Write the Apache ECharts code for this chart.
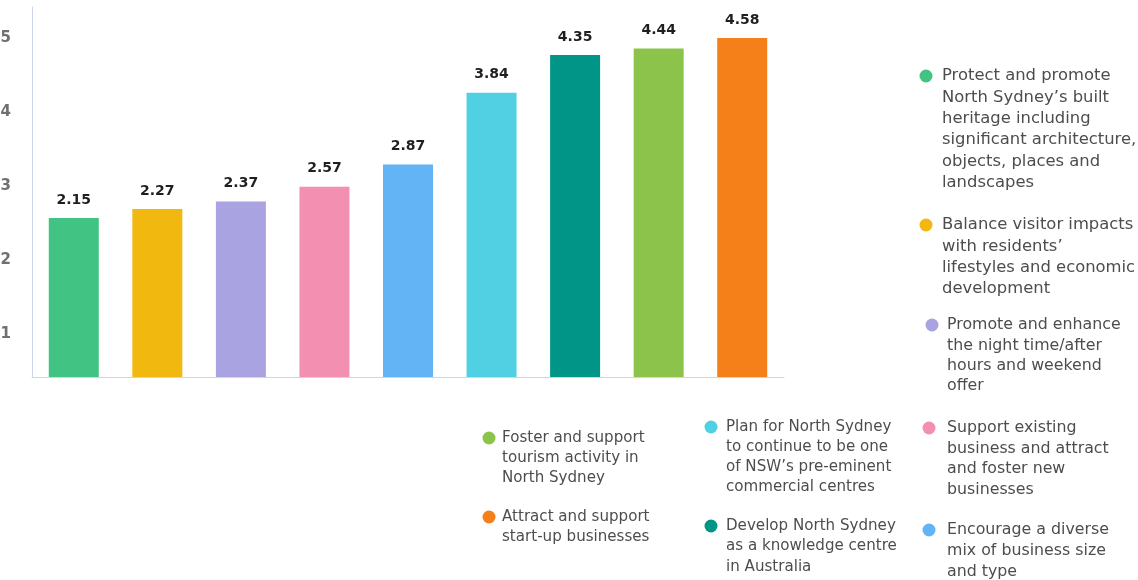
<!DOCTYPE html>
<html>
<head>
<meta charset="utf-8">
<script src="https://cdn.jsdelivr.net/npm/echarts@6/dist/echarts.min.js"></script>
<style>
  html, body { margin: 0; padding: 0; background: #ffffff; }
  #chart { width: 1138px; height: 580px; }
</style>
</head>
<body>
<div id="chart"></div>
<script>
// Objectives, in the order their bars are drawn (left to right)
const objectives = [
  'Protect and promote\nNorth Sydney\u2019s built\nheritage including\nsignificant architecture,\nobjects, places and\nlandscapes',
  'Balance visitor impacts\nwith residents\u2019\nlifestyles and economic\ndevelopment',
  'Promote and enhance\nthe night time/after\nhours and weekend\noffer',
  'Support existing\nbusiness and attract\nand foster new\nbusinesses',
  'Encourage a diverse\nmix of business size\nand type',
  'Plan for North Sydney\nto continue to be one\nof NSW\u2019s pre-eminent\ncommercial centres',
  'Develop North Sydney\nas a knowledge centre\nin Australia',
  'Foster and support\ntourism activity in\nNorth Sydney',
  'Attract and support\nstart-up businesses'
];

// Average rating per objective
const ratings = [2.15, 2.27, 2.37, 2.57, 2.87, 3.84, 4.35, 4.44, 4.58];

// Value axis ticks
const yTicks = [0, 1, 2, 3, 4, 5];

const palette = ['#41c383', '#f1b80f', '#aaa3e2', '#f38fb1', '#63b4f4',
                 '#50d0e2', '#009586', '#8cc34b', '#f57f19'];

// Where each legend entry sits: icon centre, text start, line height, font size
const legendSpots = [
  { ix: 926, iy: 76,  tx: 942, lh: 21.4, fs: 16.4 },
  { ix: 926, iy: 225, tx: 942, lh: 21.4, fs: 16.4 },
  { ix: 932, iy: 325, tx: 947, lh: 20.4, fs: 15.8 },
  { ix: 929, iy: 428, tx: 947, lh: 20.6, fs: 15.8 },
  { ix: 929, iy: 530, tx: 947, lh: 21,   fs: 15.8 },
  { ix: 711, iy: 427, tx: 726, lh: 20,   fs: 15.1 },
  { ix: 711, iy: 526, tx: 726, lh: 20.5, fs: 15.1 },
  { ix: 489, iy: 438, tx: 502, lh: 20,   fs: 15.1 },
  { ix: 489, iy: 517, tx: 502, lh: 20,   fs: 15.1 }
];

const FONT = 'DejaVu Sans';
const ICON = 13;

// One series per objective, stacked so each bar sits in its own slot
const series = objectives.map((name, i) => ({
  name: name,
  type: 'bar',
  stack: 'all',
  barWidth: 50,
  itemStyle: { color: palette[i] },
  label: {
    show: true,
    position: 'top',
    distance: 11,
    fontFamily: FONT,
    fontSize: 14,
    fontWeight: 'bold',
    color: '#1f1f1f',
    formatter: p => p.value.toFixed(2)
  },
  data: ratings.map((v, j) => (j === i ? v : '-'))
}));

// Each legend entry is its own component; blank leading lines keep the
// icon level with the first line of the wrapped text.
const legends = objectives.map((name, i) => {
  const s = legendSpots[i];
  const n = name.split('\n').length;
  return {
    orient: 'vertical',
    left: s.ix - ICON / 2,
    top: s.iy - (2 * n - 1) * s.lh / 2,
    padding: 0,
    itemWidth: ICON,
    itemHeight: ICON,
    icon: 'circle',
    selectedMode: false,
    formatter: t => '\n'.repeat(n - 1) + t,
    textStyle: {
      fontFamily: FONT,
      fontSize: s.fs,
      color: '#4d4d4d',
      lineHeight: s.lh,
      padding: [0, 0, 0, s.tx - s.ix - ICON / 2 - 5]
    },
    data: [name]
  };
});

const chart = echarts.init(document.getElementById('chart'));
chart.setOption({
  backgroundColor: '#ffffff',
  animation: false,
  grid: {
    left: 32, right: 354, top: 7, bottom: 203,
    containLabel: false,
    outerBoundsMode: 'none'
  },
  legend: legends,
  xAxis: {
    type: 'category',
    data: objectives,
    boundaryGap: true,
    axisLine: { show: true, lineStyle: { color: '#ccd6eb', width: 1 } },
    axisTick: { show: false },
    axisLabel: { show: false }
  },
  yAxis: {
    type: 'value',
    min: yTicks[0],
    max: yTicks[yTicks.length - 1],
    interval: 1,
    axisLine: { show: true, lineStyle: { color: '#ccd6eb', width: 1 } },
    axisTick: { show: false },
    splitLine: { show: false },
    axisLabel: {
      showMinLabel: false,
      showMaxLabel: true,
      hideOverlap: false,
      margin: 21,
      fontFamily: FONT,
      fontSize: 15,
      fontWeight: 'bold',
      color: '#707070',
      // tick numbers hang a little below their tick position
      verticalAlign: 'top',
      lineHeight: 62,
      formatter: v => (v !== 0 ? String(v) : '')
    }
  },
  series: series
});
</script>
</body>
</html>
